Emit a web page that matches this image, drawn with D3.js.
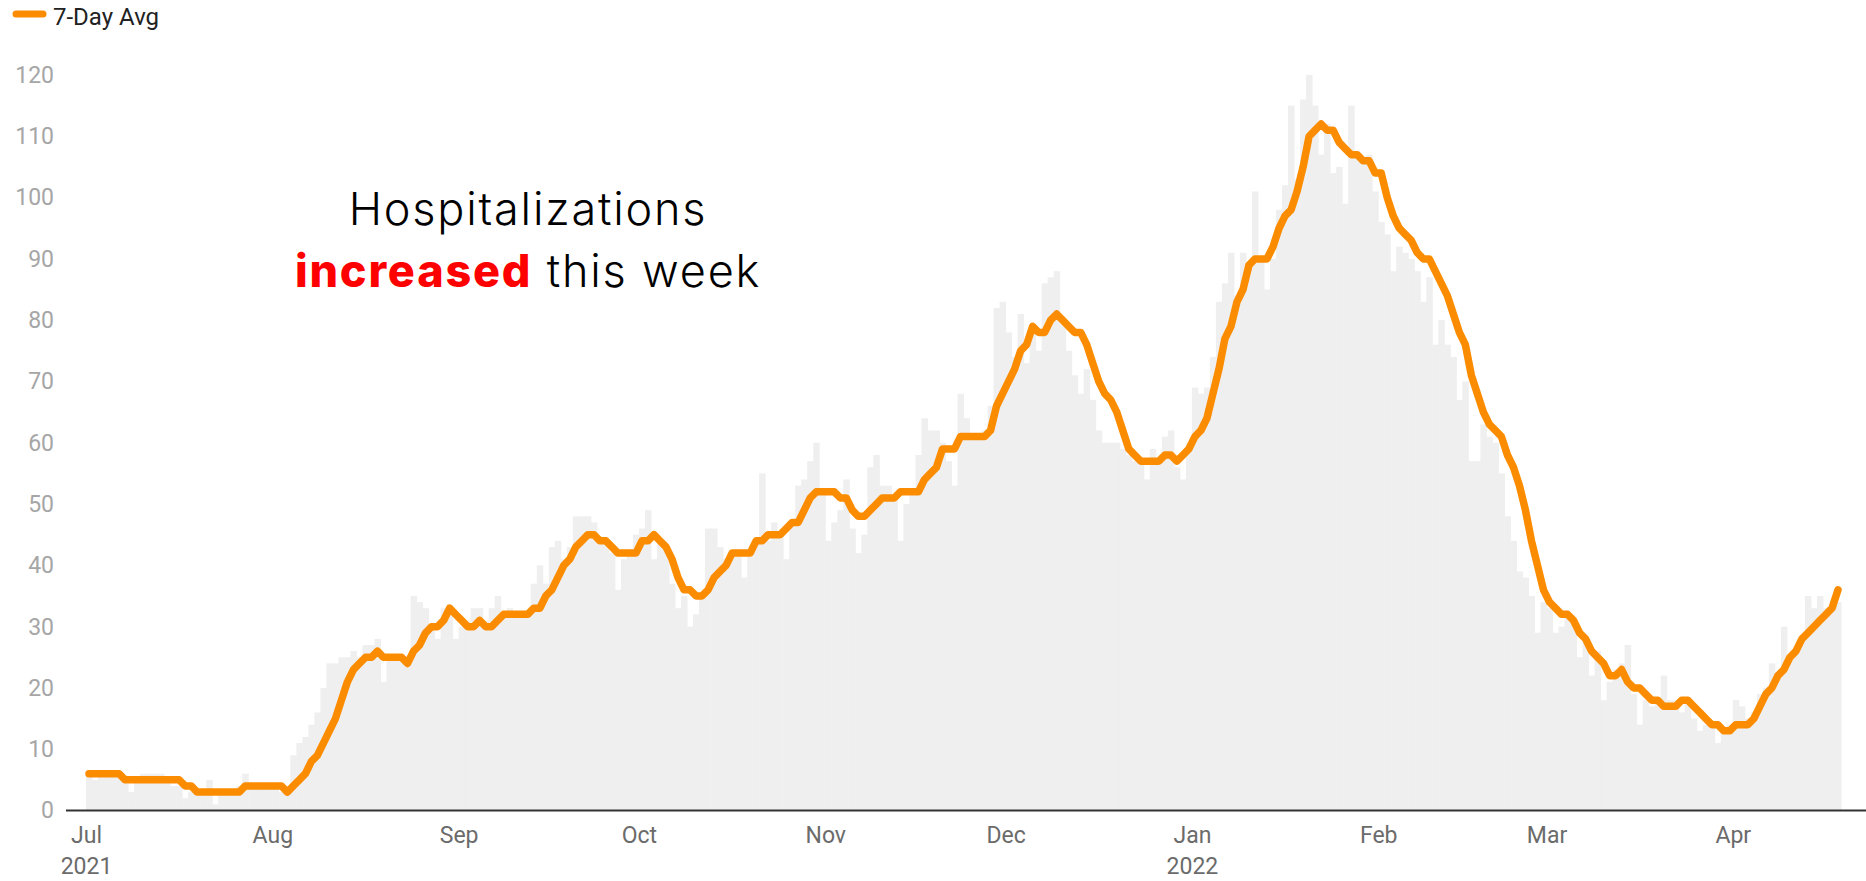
<!DOCTYPE html>
<html>
<head>
<meta charset="utf-8">
<script src="https://cdn.jsdelivr.net/npm/d3@7"></script>
<style>
  body { margin: 0; background: #fff; overflow: hidden; }
  svg { display: block; font-family: Roboto, "Noto Sans", sans-serif; }
</style>
</head>
<body>
<div id="chart"></div>
<script>
// first day of the series, one value per day after that
const startDate = new Date(2021, 6, 1);

// daily hospitalizations (grey bars), Jul 1 2021 - Apr 18 2022
const dailyCounts = [
  6, 5, 6, 6, 6, 6, 5, 3, 5, 6,
  6, 6, 6, 5, 4, 4, 2, 3, 3, 3,
  5, 1, 3, 3, 3, 4, 6, 4, 4, 4,
  4, 4, 3, 3, 9, 11, 12, 14, 16, 20,
  24, 24, 25, 25, 26, 25, 27, 27, 28, 21,
  25, 25, 25, 24, 35, 34, 33, 30, 28, 33,
  33, 28, 30, 31, 33, 33, 31, 33, 35, 32,
  33, 32, 32, 32, 37, 40, 37, 43, 44, 41,
  43, 48, 48, 48, 47, 44, 44, 42, 36, 41,
  42, 45, 46, 49, 41, 44, 43, 37, 33, 35,
  30, 32, 35, 46, 46, 43, 41, 42, 42, 38,
  42, 44, 55, 44, 47, 45, 41, 47, 53, 54,
  57, 60, 52, 44, 47, 49, 54, 46, 42, 45,
  56, 58, 53, 53, 51, 44, 50, 52, 58, 64,
  62, 62, 60, 57, 53, 68, 64, 61, 61, 62,
  66, 82, 83, 78, 74, 81, 73, 78, 75, 86,
  87, 88, 80, 75, 71, 68, 72, 67, 62, 60,
  60, 60, 59, 58, 57, 57, 54, 59, 57, 61,
  62, 56, 54, 60, 69, 68, 69, 74, 83, 86,
  91, 84, 91, 89, 101, 90, 85, 90, 98, 102,
  115, 103, 116, 120, 115, 107, 112, 104, 105, 99,
  115, 107, 106, 107, 101, 96, 94, 88, 92, 91,
  90, 88, 83, 87, 76, 80, 76, 74, 67, 70,
  57, 57, 63, 61, 60, 55, 48, 44, 39, 38,
  35, 29, 34, 33, 29, 30, 32, 31, 25, 28,
  22, 26, 18, 21, 23, 24, 27, 19, 14, 18,
  17, 18, 22, 18, 18, 16, 18, 15, 13, 14,
  14, 11, 13, 14, 18, 17, 15, 16, 19, 20,
  24, 22, 30, 25, 26, 28, 35, 33, 35, 33,
  33, 34
];

// 7-day average (orange line)
const avg7 = [
  6, 6, 6, 6, 6, 6, 5, 5, 5, 5,
  5, 5, 5, 5, 5, 5, 4, 4, 3, 3,
  3, 3, 3, 3, 3, 3, 4, 4, 4, 4,
  4, 4, 4, 3, 4, 5, 6, 8, 9, 11,
  13, 15, 18, 21, 23, 24, 25, 25, 26, 25,
  25, 25, 25, 24, 26, 27, 29, 30, 30, 31,
  33, 32, 31, 30, 30, 31, 30, 30, 31, 32,
  32, 32, 32, 32, 33, 33, 35, 36, 38, 40,
  41, 43, 44, 45, 45, 44, 44, 43, 42, 42,
  42, 42, 44, 44, 45, 44, 43, 41, 38, 36,
  36, 35, 35, 36, 38, 39, 40, 42, 42, 42,
  42, 44, 44, 45, 45, 45, 46, 47, 47, 49,
  51, 52, 52, 52, 52, 51, 51, 49, 48, 48,
  49, 50, 51, 51, 51, 52, 52, 52, 52, 54,
  55, 56, 59, 59, 59, 61, 61, 61, 61, 61,
  62, 66, 68, 70, 72, 75, 76, 79, 78, 78,
  80, 81, 80, 79, 78, 78, 76, 73, 70, 68,
  67, 65, 62, 59, 58, 57, 57, 57, 57, 58,
  58, 57, 58, 59, 61, 62, 64, 68, 72, 77,
  79, 83, 85, 89, 90, 90, 90, 92, 95, 97,
  98, 101, 105, 110, 111, 112, 111, 111, 109, 108,
  107, 107, 106, 106, 104, 104, 100, 97, 95, 94,
  93, 91, 90, 90, 88, 86, 84, 81, 78, 76,
  71, 68, 65, 63, 62, 61, 58, 56, 53, 49,
  44, 40, 36, 34, 33, 32, 32, 31, 29, 28,
  26, 25, 24, 22, 22, 23, 21, 20, 20, 19,
  18, 18, 17, 17, 17, 18, 18, 17, 16, 15,
  14, 14, 13, 13, 14, 14, 14, 15, 17, 19,
  20, 22, 23, 25, 26, 28, 29, 30, 31, 32,
  33, 36
];

const yTicks = [0, 10, 20, 30, 40, 50, 60, 70, 80, 90, 100, 110, 120];
const monthTicks = ['2021-07-01', '2021-08-01', '2021-09-01', '2021-10-01', '2021-11-01',
  '2021-12-01', '2022-01-01', '2022-02-01', '2022-03-01', '2022-04-01'];
const monthNames = ['Jul', 'Aug', 'Sep', 'Oct', 'Nov', 'Dec', 'Jan', 'Feb', 'Mar', 'Apr'];
const yearNames = ['2021', '', '', '', '', '', '2022', '', '', ''];
const legendLabel = '7-Day Avg';
const noteTop = 'Hospitalizations';
const noteWord = 'increased';
const noteRest = ' this week';

const width = 1866, height = 881;
const orange = '#fb8c00';

const svg = d3.select('#chart').append('svg')
  .attr('width', width)
  .attr('height', height);

const days = dailyCounts.map((_, i) => d3.timeDay.offset(startDate, i));
const x = d3.scaleTime()
  .domain([startDate, d3.timeDay.offset(startDate, dailyCounts.length)])
  .range([86, 1841]);
const y = d3.scaleLinear().domain([0, 120]).range([810.5, 75]);
const barW = x(days[1]) - x(days[0]);

// daily bars
svg.append('g').selectAll('rect')
  .data(dailyCounts)
  .join('rect')
  .attr('x', (d, i) => x(days[i]))
  .attr('y', d => y(d))
  .attr('width', barW + 0.5)
  .attr('height', d => y(0) - y(d))
  .attr('fill', '#efefef');

// y axis labels
const yAxis = svg.append('g')
  .attr('transform', 'translate(57,0)')
  .call(d3.axisLeft(y).tickValues(yTicks).tickSize(0).tickPadding(3));
yAxis.select('.domain').remove();
yAxis.selectAll('text')
  .attr('font-size', 23)
  .attr('font-family', 'Roboto')
  .attr('fill', '#a6a6a6');

// x axis (months, with year under Jul / Jan)
const monthDates = monthTicks.map(s => d3.timeParse('%Y-%m-%d')(s));
const xAxis = svg.append('g')
  .attr('transform', `translate(0,${y(0)})`)
  .call(d3.axisBottom(x).tickValues(monthDates).tickSize(0).tickPadding(16)
    .tickFormat((d, i) => monthNames[i]));
xAxis.select('.domain').remove();
xAxis.selectAll('text')
  .attr('font-size', 23)
  .attr('font-family', 'Roboto')
  .attr('fill', '#6b6b6b');
xAxis.selectAll('.tick').each(function (d, i) {
  if (!yearNames[i]) return;
  d3.select(this).append('text')
    .attr('y', 47)
    .attr('dy', '0.71em')
    .attr('text-anchor', 'middle')
    .attr('font-size', 23)
    .attr('font-family', 'Roboto')
    .attr('fill', '#6b6b6b')
    .text(yearNames[i]);
});

svg.append('line')
  .attr('x1', 66).attr('x2', width)
  .attr('y1', y(0)).attr('y2', y(0))
  .attr('stroke', '#333')
  .attr('stroke-width', 2);

// 7-day average line
const line = d3.line()
  .x((d, i) => x(days[i]) + barW / 2)
  .y(d => y(d));

svg.append('path')
  .datum(avg7)
  .attr('d', line)
  .attr('fill', 'none')
  .attr('stroke', orange)
  .attr('stroke-width', 7.5)
  .attr('stroke-linejoin', 'round')
  .attr('stroke-linecap', 'round');

// annotation
const note = svg.append('g')
  .attr('font-family', 'Inter, "Noto Sans", sans-serif')
  .attr('text-anchor', 'middle')
  .attr('font-size', 45)
  .attr('letter-spacing', 1.8);
note.append('text')
  .attr('x', 528).attr('y', 225)
  .attr('font-weight', 300)
  .attr('fill', '#000')
  .text(noteTop);
const note2 = note.append('text')
  .attr('x', 528).attr('y', 287);
note2.append('tspan')
  .attr('font-weight', 800)
  .attr('fill', '#ff0000')
  .text(noteWord);
note2.append('tspan')
  .attr('font-weight', 300)
  .attr('fill', '#000')
  .text(noteRest);

// legend
svg.append('line')
  .attr('x1', 16).attr('x2', 43)
  .attr('y1', 14).attr('y2', 14)
  .attr('stroke', orange)
  .attr('stroke-width', 7)
  .attr('stroke-linecap', 'round');
svg.append('text')
  .attr('x', 53).attr('y', 25)
  .attr('font-size', 24)
  .attr('font-family', 'Roboto')
  .attr('fill', '#222')
  .text(legendLabel);
</script>
</body>
</html>
